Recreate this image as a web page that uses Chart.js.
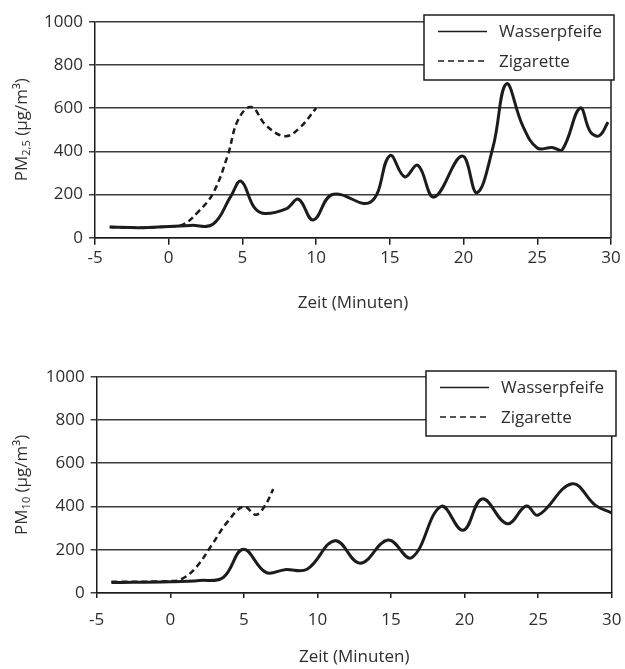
<!DOCTYPE html>
<html lang="de">
<head>
<meta charset="utf-8">
<script src="https://cdn.jsdelivr.net/npm/chart.js"></script>
<style>
  body { margin: 0; background: #fff; }
  canvas { position: absolute; left: 0; }
  #pm25 { top: 0; }
  #pm10 { top: 330px; }
</style>
</head>
<body>
<canvas id="pm25" width="625" height="330"></canvas>
<canvas id="pm10" width="625" height="339"></canvas>
<script>
// axis ticks (time in minutes, concentration in µg/m³)
const xTicks = [-5, 0, 5, 10, 15, 20, 25, 30];
const yTicks = [0, 200, 400, 600, 800, 1000];
const seriesLabels = ["Wasserpfeife", "Zigarette"];

// PM2.5
const pm25WasserTime = [-4, -2, 0, 1.5, 3, 4.2, 4.9, 5.8, 6.5, 8, 8.8, 9.8, 11.1, 13.7, 15, 16, 16.9, 18, 19.9, 20.9, 22, 22.9, 24, 25, 26, 26.7, 27.9, 28.6, 29.2, 29.8];
const pm25WasserValues = [50, 46, 52, 57, 62, 190, 262, 140, 112, 135, 178, 82, 200, 165, 380, 282, 335, 188, 378, 208, 420, 712, 520, 415, 418, 408, 600, 490, 472, 535];
const pm25ZigTime = [-4, -2, 0, 1, 2, 3, 4, 4.7, 5.6, 6.6, 7.9, 8.9, 10];
const pm25ZigValues = [50, 46, 52, 62, 120, 205, 380, 545, 605, 520, 470, 510, 600];

// PM10
const pm10WasserTime = [-4, 0, 2, 3.6, 4.95, 6.5, 7.8, 9.3, 11.2, 12.9, 14.8, 16.4, 18.4, 19.9, 21.2, 22.9, 24.2, 25, 27.3, 28.9, 30];
const pm10WasserValues = [48, 52, 58, 72, 202, 95, 108, 110, 242, 138, 245, 163, 400, 290, 435, 320, 402, 360, 505, 405, 370];
const pm10ZigTime = [-4, 0, 0.8, 1.8, 2.8, 3.9, 5, 5.8, 6.4, 7];
const pm10ZigValues = [52, 55, 65, 122, 220, 330, 400, 362, 400, 480];

const ink = "#1c1c1c";
const textColor = "#2e2e2e";
const fontFamily = "'Open Sans', sans-serif";
const font = { family: fontFamily, size: 17 };

function toPoints(xs, ys) {
    return xs.map((x, i) => ({ x: x, y: ys[i] }));
}

// right frame line + legend box in the upper right corner
const boxLegend = {
    id: "boxLegend",
    afterDraw(chart, args, opts) {
        const ctx = chart.ctx;
        const area = chart.chartArea;
        ctx.save();
        ctx.strokeStyle = ink;
        ctx.lineWidth = 1.5;
        ctx.beginPath();
        ctx.moveTo(area.right, area.top);
        ctx.lineTo(area.right, area.bottom);
        ctx.stroke();

        const w = 190, h = 65;
        const x0 = area.right + opts.dx - w;
        const y0 = area.top + opts.dy;
        ctx.fillStyle = "#fff";
        ctx.fillRect(x0, y0, w, h);
        ctx.strokeRect(x0, y0, w, h);
        ctx.font = "17px " + fontFamily;
        ctx.textBaseline = "middle";
        chart.data.datasets.forEach((ds, i) => {
            const y = y0 + 16.5 + i * 29.5;
            ctx.beginPath();
            ctx.setLineDash(ds.borderDash || []);
            ctx.lineWidth = 1.5;
            ctx.moveTo(x0 + 14, y);
            ctx.lineTo(x0 + 63, y);
            ctx.stroke();
            ctx.setLineDash([]);
            ctx.fillStyle = textColor;
            ctx.fillText(ds.label, x0 + 75, y + 1);
        });
        ctx.restore();
    }
};

// rotated y title with a real subscript
const yTitle = {
    id: "yTitle",
    afterDraw(chart, args, opts) {
        const ctx = chart.ctx;
        const area = chart.chartArea;
        const big = "17px " + fontFamily;
        const small = "11px " + fontFamily;
        ctx.save();
        ctx.translate(opts.x, (area.top + area.bottom) / 2);
        ctx.rotate(-Math.PI / 2);
        ctx.font = big;
        const w1 = ctx.measureText(opts.main).width;
        const w3 = ctx.measureText(opts.rest).width;
        ctx.font = small;
        const w2 = ctx.measureText(opts.sub).width;
        let x = -(w1 + w2 + w3) / 2;
        const base = 6;
        ctx.fillStyle = textColor;
        ctx.textBaseline = "alphabetic";
        ctx.font = big;
        ctx.fillText(opts.main, x, base);
        x += w1;
        ctx.font = small;
        ctx.fillText(opts.sub, x, base + 3);
        x += w2;
        ctx.font = big;
        ctx.fillText(opts.rest, x, base);
        ctx.restore();
    }
};

function makeChart(id, s) {
    return new Chart(document.getElementById(id), {
        type: "line",
        data: {
            datasets: [
                {
                    label: seriesLabels[0],
                    data: toPoints(s.wasserTime, s.wasserValues),
                    borderColor: ink,
                    borderWidth: 3,
                    pointRadius: 0,
                    tension: 0.4,
                    fill: false,
                },
                {
                    label: seriesLabels[1],
                    data: toPoints(s.zigTime, s.zigValues),
                    borderColor: ink,
                    borderWidth: 2.5,
                    borderDash: [6, 4],
                    pointRadius: 0,
                    tension: 0.4,
                    fill: false,
                },
            ],
        },
        options: {
            responsive: false,
            animation: false,
            layout: { padding: s.padding },
            scales: {
                x: {
                    type: "linear",
                    min: -5,
                    max: 30,
                    afterBuildTicks: (scale) => { scale.ticks = xTicks.map(v => ({ value: v })); },
                    afterFit: (scale) => {
                        scale.height = s.xHeight;
                        // keep the plot edges where the layout padding puts them
                        scale.paddingLeft = 0;
                        scale.paddingRight = 0;
                    },
                    grid: { drawOnChartArea: false, drawTicks: true, tickLength: s.xTickLength, color: ink, lineWidth: 1.5 },
                    border: { color: ink, width: 1.5 },
                    ticks: { font: font, color: textColor, padding: s.xTickPadding, maxRotation: 0, callback: (v) => String(v) },
                    title: { display: true, text: "Zeit (Minuten)", font: font, color: textColor, padding: { top: 0, bottom: s.xTitlePad } },
                },
                y: {
                    min: 0,
                    max: 1000,
                    afterBuildTicks: (scale) => { scale.ticks = yTicks.map(v => ({ value: v })); },
                    afterFit: (scale) => { scale.width = s.yWidth; },
                    grid: { color: "#3c3c3c", lineWidth: 1.5, tickLength: 6 },
                    border: { color: ink, width: 1.5 },
                    ticks: { font: font, color: textColor, padding: 6, callback: (v) => String(v) },
                },
            },
            plugins: {
                legend: { display: false },
                tooltip: { enabled: false },
                boxLegend: { dx: s.legendDx, dy: s.legendDy },
                yTitle: { x: 21, main: "PM", sub: s.sub, rest: " (µg/m³)" },
            },
        },
        plugins: [boxLegend, yTitle],
    });
}

makeChart("pm25", {
    wasserTime: pm25WasserTime, wasserValues: pm25WasserValues,
    zigTime: pm25ZigTime, zigValues: pm25ZigValues,
    padding: { left: 0, top: 21.7, right: 14, bottom: 0 },
    yWidth: 95, xHeight: 92.3, xTickLength: 7, xTickPadding: 3, xTitlePad: 17,
    legendDx: 3, legendDy: -6.7, sub: "2,5",
});

makeChart("pm10", {
    wasserTime: pm10WasserTime, wasserValues: pm10WasserValues,
    zigTime: pm10ZigTime, zigValues: pm10ZigValues,
    padding: { left: 0, top: 46.7, right: 13.3, bottom: 0 },
    yWidth: 96.7, xHeight: 76, xTickLength: 5, xTickPadding: 12, xTitlePad: 2,
    legendDx: 4.3, legendDy: -5.7, sub: "10",
});
</script>
</body>
</html>
